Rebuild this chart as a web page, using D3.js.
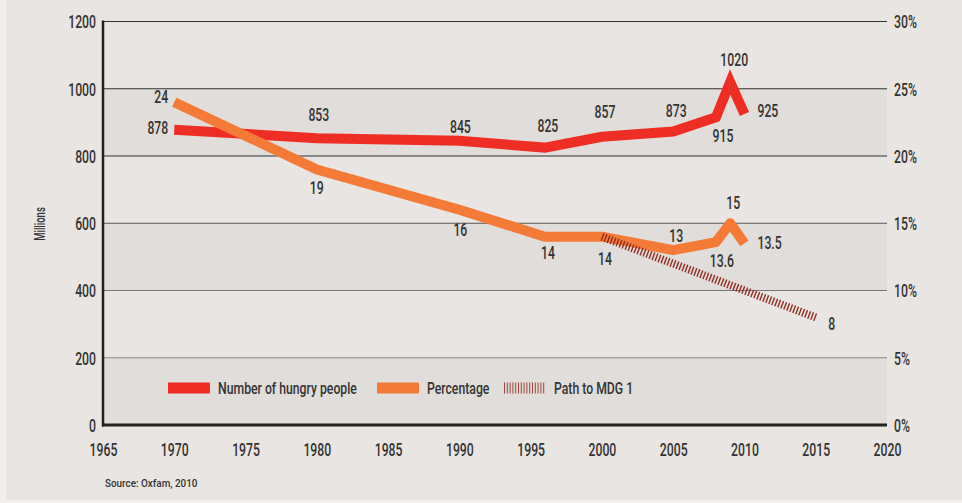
<!DOCTYPE html>
<html><head><meta charset="utf-8">
<script src="https://cdn.jsdelivr.net/npm/d3@7"></script>
<style>
body{margin:0;background:#f1eeec}
text{font-family:Roboto,"DejaVu Sans",sans-serif;font-weight:500;fill:#333}
</style>
</head><body><svg id="c" width="962" height="503"></svg>
<script>
// ---- data ----
const years   = [1970, 1980, 1990, 1996, 2000, 2005, 2008, 2009, 2010];
const hungry  = [878, 853, 845, 825, 857, 873, 915, 1020, 925];
const percent = [24, 19, 16, 14, 14, 13, 13.6, 15, 13.5];
const mdgYears   = [2000, 2015];
const mdgPercent = [14, 8];
const xTicks   = [1965, 1970, 1975, 1980, 1985, 1990, 1995, 2000, 2005, 2010, 2015, 2020];
const yTicks   = [0, 200, 400, 600, 800, 1000, 1200];
const pctTicks = [0, 5, 10, 15, 20, 25, 30];
const legendLabels = ["Number of hungry people", "Percentage", "Path to MDG 1"];
const yTitle = "Millions";
const source = "Source: Oxfam, 2010";

// ---- layout (label offsets in px, not data) ----
const hungryOff = [[-6,-2,"end"],[2,-24],[1,-14],[3,-22],[3,-25],[3,-21],[7,18],[4,-23],[13,-3,"start"]];
const pctOff    = [[-6,-6,"end"],[0,18],[1,20],[3,16],[3,22],[3,-15],[6,18],[3,-21],[13,-1,"start"]];
const mdgOff    = [16,6];

const SX = 0.68;        // horizontal condensation of the font
const FS = 18;          // main label font size

const svg = d3.select("#c");
const W = 962;
const L = 103, R = 887, T = 21.5, B = 425;
const x = d3.scaleLinear().domain([1965, 2020]).range([L, R]);
const y = d3.scaleLinear().domain([0, 1200]).range([B, T]);
const y2 = d3.scaleLinear().domain([0, 30]).range([B, T]);

const RED = "#ee2e24", ORANGE = "#f47a38", HATCH = "#8e2d22";

function ctext(parent, px, py, str, size, anchor, rot, sx) {
  return parent.append("text")
    .attr("transform", `translate(${px},${py})` + (rot ? ` rotate(${rot})` : "") + ` scale(${sx || SX},1)`)
    .attr("text-anchor", anchor || "middle")
    .attr("dy", "0.36em")
    .style("font-size", size + "px")
    .text(str);
}

// panel background
svg.append("rect").attr("x", 6).attr("y", 0).attr("width", W - 6).attr("height", 500).attr("fill", "#e9e5e2");

// bands
for (let i = 0; i < yTicks.length - 1; i += 2) {
  svg.append("rect").attr("x", L).attr("width", R - L)
    .attr("y", y(yTicks[i + 1])).attr("height", y(yTicks[i]) - y(yTicks[i + 1]))
    .attr("fill", "#e1ddda");
}

// gridlines
const gridColor = v => v >= 800 ? "#333" : v >= 600 ? "#555" : v >= 400 ? "#777" : "#888";
svg.append("g").selectAll("line").data(yTicks.filter(v => v > 0)).join("line")
  .attr("x1", L).attr("x2", R).attr("y1", d => y(d)).attr("y2", d => y(d))
  .attr("stroke", gridColor).attr("stroke-width", 1.2);

// axes lines
svg.append("line").attr("x1", L).attr("x2", L).attr("y1", T - 1).attr("y2", B + 1.5)
  .attr("stroke", "#222").attr("stroke-width", 2.5);
svg.append("line").attr("x1", L - 1).attr("x2", R).attr("y1", B).attr("y2", B)
  .attr("stroke", "#222").attr("stroke-width", 3);

// axes via d3 axis generators, then condensed text
function condense(g, size, xoff) {
  g.select(".domain").remove();
  g.selectAll("text").style("font-size", size + "px").attr("fill", "#333")
    .attr("transform", `scale(${SX},1)`)
    .attr("x", xoff / SX);
}
const gy = svg.append("g").attr("transform", `translate(${L},0)`)
  .call(d3.axisLeft(y).tickValues(yTicks).tickSize(0).tickFormat(d3.format("d")));
condense(gy, FS, -7);
gy.selectAll("text").attr("dy", "0.36em");

const gy2 = svg.append("g").attr("transform", `translate(${R},0)`)
  .call(d3.axisRight(y2).tickValues(pctTicks).tickSize(0).tickFormat(d => d + "%"));
condense(gy2, FS, 7);
gy2.selectAll("text").attr("dy", "0.36em");

const gx = svg.append("g").attr("transform", `translate(0,${B})`)
  .call(d3.axisBottom(x).tickValues(xTicks).tickSize(0).tickFormat(d3.format("d")));
condense(gx, FS, 0);
gx.selectAll("text").attr("y", 25).attr("dy", "0.36em");

// y title
ctext(svg, 40, 224, yTitle, 14, "middle", -90);

// lines
const lineH = d3.line().x((d, i) => x(years[i])).y(d => y(d));
const lineP = d3.line().x((d, i) => x(years[i])).y(d => y2(d));
const lineM = d3.line().x((d, i) => x(mdgYears[i])).y(d => y2(d));

svg.append("path").datum(hungry).attr("d", lineH).attr("fill", "none")
  .attr("stroke", RED).attr("stroke-width", 10).attr("stroke-linejoin", "miter");
svg.append("path").datum(percent).attr("d", lineP).attr("fill", "none")
  .attr("stroke", ORANGE).attr("stroke-width", 10).attr("stroke-linejoin", "round");
svg.append("path").datum(mdgPercent).attr("d", lineM).attr("fill", "none")
  .attr("stroke", HATCH).attr("stroke-width", 8).attr("stroke-dasharray", "1.4,1.8");

// value labels
const lab = svg.append("g");
hungry.forEach((v, i) => ctext(lab, x(years[i]) + hungryOff[i][0], y(v) + hungryOff[i][1], v, FS, hungryOff[i][2]));
percent.forEach((v, i) => ctext(lab, x(years[i]) + pctOff[i][0], y2(v) + pctOff[i][1], v, FS, pctOff[i][2]));
ctext(lab, x(mdgYears[1]) + mdgOff[0], y2(mdgPercent[1]) + mdgOff[1], mdgPercent[1], FS);

// legend
const legX = [168, 377, 504];
const legStyle = [{c: RED}, {c: ORANGE}, {c: HATCH, hatch: true}];
const lg = svg.append("g").attr("transform", "translate(0,388)");
legendLabels.forEach((t, i) => {
  if (legStyle[i].hatch) {
    lg.append("line").attr("x1", legX[i]).attr("x2", legX[i] + 42).attr("y1", 0).attr("y2", 0)
      .attr("stroke", legStyle[i].c).attr("stroke-width", 11).attr("stroke-dasharray", "1,1.8").attr("opacity", 0.85);
  } else {
    lg.append("rect").attr("x", legX[i]).attr("y", -5.5).attr("width", 42).attr("height", 11).attr("fill", legStyle[i].c);
  }
  ctext(lg, legX[i] + 50, 0, t, 17, "start", 0, 0.72);
});

// source
ctext(svg, 105, 483, source, 11, "start", 0, 0.9);
</script>
</body></html>
